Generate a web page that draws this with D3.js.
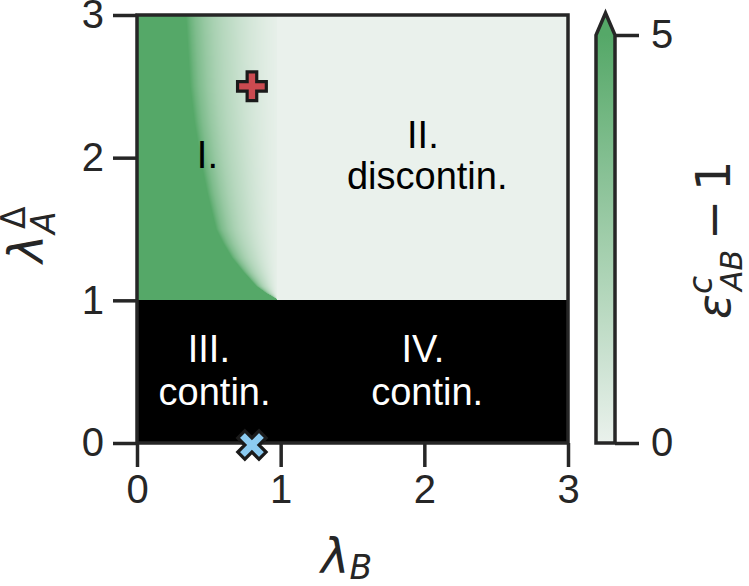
<!DOCTYPE html>
<html><head><meta charset="utf-8">
<script src="https://cdn.jsdelivr.net/npm/d3@7"></script>
<style>
body{margin:0;background:#fff}
svg{display:block}
text{font-family:"Liberation Sans",Arial,sans-serif;fill:#262626}
.math{font-family:"DejaVu Sans",sans-serif}
</style>
</head><body>
<svg id="c" width="749" height="586"></svg>
<script>
// ---------------- data ----------------
const xTicks = [0, 1, 2, 3];
const yTicks = [0, 1, 2, 3];
const cbarTicks = [0, 5];
// rows of lambda_A^Delta (region above 1) and the lambda_B where eps-1 reaches 5 (saturation)
const lambdaARows = [1.0, 1.05, 1.1, 1.2, 1.3, 1.4, 1.5, 1.75, 2.0, 2.25, 2.5, 2.75, 3.0];
const satEdge     = [0.99, 0.90, 0.83, 0.74, 0.66, 0.60, 0.55, 0.49, 0.44, 0.40, 0.37, 0.355, 0.34];
// lambda_B where region I ends (region II value = 0)
const regionIEdge = 0.975;
// fade profile between saturation edge (t=0) and region I edge (t=1)
const fadeT = [0, 0.05, 0.1, 0.2, 0.3, 0.4, 0.5, 0.6, 0.7, 0.8, 0.9, 1.0];
const fadeV = [5, 4.2, 3.6, 2.8, 2.2, 1.75, 1.4, 1.05, 0.75, 0.5, 0.28, 0.12];
// below this lambda_A^Delta the transition is continuous (black)
const continuousBelow = 1.0;
const markerLB = [0.8, 0.8];
const markerLA = [2.5, 0.0];
const markerType = ["plus", "x"];
const markerColor = ["#cb4a50", "#8ccbf1"];
const labelLines = [
  {t: "I.", lb: 0.49, la: 1.93},
  {t: "II.", lb: 1.99, la: 2.07},
  {t: "discontin.", lb: 2.02, la: 1.78},
  {t: "III.", lb: 0.50, la: 0.568},
  {t: "contin.", lb: 0.54, la: 0.266},
  {t: "IV.", lb: 1.99, la: 0.568},
  {t: "contin.", lb: 2.02, la: 0.266}
];

// ---------------- layout ----------------
const svg = d3.select("#c");
const X0 = 137, X1 = 568, Y0 = 443, Y1 = 15;
const x = d3.scaleLinear().domain([0, 3]).range([X0, X1]);
const y = d3.scaleLinear().domain([0, 3]).range([Y0, Y1]);
const cLight = "#eaf1ec", cDark = "#55a868";
const color = d3.scaleLinear().domain([0, 5]).range([cLight, cDark]).clamp(true);
const edgeAt = d3.scaleLinear().domain(lambdaARows).range(satEdge).clamp(true);
const fade = d3.scaleLinear().domain(fadeT).range(fadeV).clamp(true);
const ink = "#262626";

// heatmap raster
const W = X1 - X0, H = Y0 - Y1;
const cv = document.createElement("canvas");
cv.width = W; cv.height = H;
const ctx = cv.getContext("2d");
const img = ctx.createImageData(W, H);
for (let py = 0; py < H; py++) {
  const la = y.invert(Y1 + py + 0.5);
  for (let px = 0; px < W; px++) {
    const lb = x.invert(X0 + px + 0.5);
    let c;
    if (la < continuousBelow) c = {r: 0, g: 0, b: 0};
    else {
      let v;
      if (lb >= regionIEdge) v = 0;
      else {
        const e = Math.min(edgeAt(la), regionIEdge);
        if (lb <= e) v = 5;
        else v = fade((lb - e) / (regionIEdge - e));
      }
      c = d3.rgb(color(v));
    }
    const i = (py * W + px) * 4;
    img.data[i] = c.r; img.data[i+1] = c.g; img.data[i+2] = c.b; img.data[i+3] = 255;
  }
}
ctx.putImageData(img, 0, 0);
svg.append("image").attr("x", X0).attr("y", Y1).attr("width", W).attr("height", H)
  .attr("preserveAspectRatio", "none").attr("href", cv.toDataURL());

// region labels
svg.append("g").selectAll("text").data(labelLines).join("text")
  .attr("x", d => x(d.lb)).attr("y", d => y(d.la))
  .attr("text-anchor", "middle").style("font-size", "38px")
  .style("fill", d => d.la < continuousBelow ? "#ffffff" : "#000000")
  .text(d => d.t);

// axes
const ax = d3.axisBottom(x).tickValues(xTicks).tickSize(24).tickPadding(8).tickFormat(d3.format("d"));
const ay = d3.axisLeft(y).tickValues(yTicks).tickSize(24).tickPadding(9).tickFormat(d3.format("d"));
const gx = svg.append("g").attr("transform", `translate(0,${Y0})`).call(ax);
const gy = svg.append("g").attr("transform", `translate(${X0},0)`).call(ay);
[gx, gy].forEach(g => {
  g.select(".domain").remove();
  g.selectAll(".tick line").attr("stroke", ink).attr("stroke-width", 3.5);
  g.selectAll(".tick text").style("font-size", "40px").attr("fill", ink)
    .style("font-family", '"Liberation Sans",Arial,sans-serif');
});
// frame
svg.append("rect").attr("x", X0).attr("y", Y1).attr("width", X1 - X0).attr("height", Y0 - Y1)
  .attr("fill", "none").attr("stroke", ink).attr("stroke-width", 3.5);

// markers
const symPlus = d3.symbol(d3.symbolCross, 460)();
const symX = d3.symbol(d3.symbolCross, 500)();
svg.append("g").selectAll("path").data(markerLB).join("path")
  .attr("d", (d, i) => markerType[i] === "plus" ? symPlus : symX)
  .attr("transform", (d, i) => `translate(${x(d)},${y(markerLA[i]) + (markerType[i] === "x" ? 2 : 0)}) rotate(${markerType[i] === "x" ? 45 : 0})`)
  .attr("fill", (d, i) => markerColor[i]).attr("stroke", "#1a1a1a").attr("stroke-width", 3.2)
  .attr("stroke-linejoin", "miter");

// x axis label λ_B
const xl = svg.append("text").attr("class", "math").attr("x", 321).attr("y", 573)
  .style("font-size", "48px").style("font-style", "italic");
xl.append("tspan").text("λ");
xl.append("tspan").attr("dy", 6).style("font-size", "33px").text("B");

// y label: rotated λ_A^Δ
const gyl = svg.append("g").attr("transform", "translate(43,262) rotate(-90)");
gyl.append("text").attr("class", "math").attr("x", -1).attr("y", 0).style("font-size", "48px")
  .style("font-style", "italic").text("λ");
gyl.append("text").attr("class", "math").attr("x", 28).attr("y", 12).style("font-size", "33px").style("font-style", "italic").text("A");
gyl.append("text").attr("class", "math").attr("x", 33).attr("y", -18).style("font-size", "33px").text("Δ");

// colorbar
const CB0 = 596, CB1 = 615;
const cy = d3.scaleLinear().domain([0, 5]).range([443, 35]);
const defs = svg.append("defs");
const lg = defs.append("linearGradient").attr("id", "cbg").attr("x1", 0).attr("y1", 1).attr("x2", 0).attr("y2", 0);
lg.selectAll("stop").data(d3.range(0, 5.01, 0.5)).join("stop")
  .attr("offset", d => d / 5).attr("stop-color", d => color(d));
const tipY = 13;
const cbPath = `M${CB0},${cy(0)} L${CB0},${cy(5)} L${(CB0 + CB1) / 2},${tipY} L${CB1},${cy(5)} L${CB1},${cy(0)} Z`;
svg.append("path").attr("d", `M${CB0},${cy(5)} L${(CB0 + CB1) / 2},${tipY} L${CB1},${cy(5)} Z`).attr("fill", color(5));
svg.append("rect").attr("x", CB0).attr("y", cy(5)).attr("width", CB1 - CB0).attr("height", cy(0) - cy(5)).attr("fill", "url(#cbg)");
svg.append("path").attr("d", cbPath).attr("fill", "none").attr("stroke", ink).attr("stroke-width", 3.5).attr("stroke-linejoin", "miter");
const ac = d3.axisRight(cy).tickValues(cbarTicks).tickSize(24).tickPadding(12).tickFormat(d3.format("d"));
const gc = svg.append("g").attr("transform", `translate(${CB1},0)`).call(ac);
gc.select(".domain").remove();
gc.selectAll(".tick line").attr("stroke", ink).attr("stroke-width", 3.5);
gc.selectAll(".tick text").style("font-size", "40px").attr("fill", ink)
  .style("font-family", '"Liberation Sans",Arial,sans-serif');

// colorbar label ε^c_AB − 1
const gcl = svg.append("g").attr("transform", "translate(730,318) rotate(-90)");
gcl.append("text").attr("class", "math").attr("x", -1).style("font-size", "46px").style("font-style", "italic").text("ε");
gcl.append("text").attr("class", "math").attr("x", 24).attr("y", -18).style("font-size", "33px").style("font-style", "italic").text("c");
gcl.append("text").attr("class", "math").attr("x", 27).attr("y", 12).style("font-size", "30px").style("font-style", "italic").text("AB");
gcl.append("text").attr("class", "math").attr("x", 78).attr("y", 0).style("font-size", "48px").text("−");
gcl.append("text").attr("class", "math").attr("x", 127).attr("y", 0).style("font-size", "48px").text("1");
</script>
</body></html>
